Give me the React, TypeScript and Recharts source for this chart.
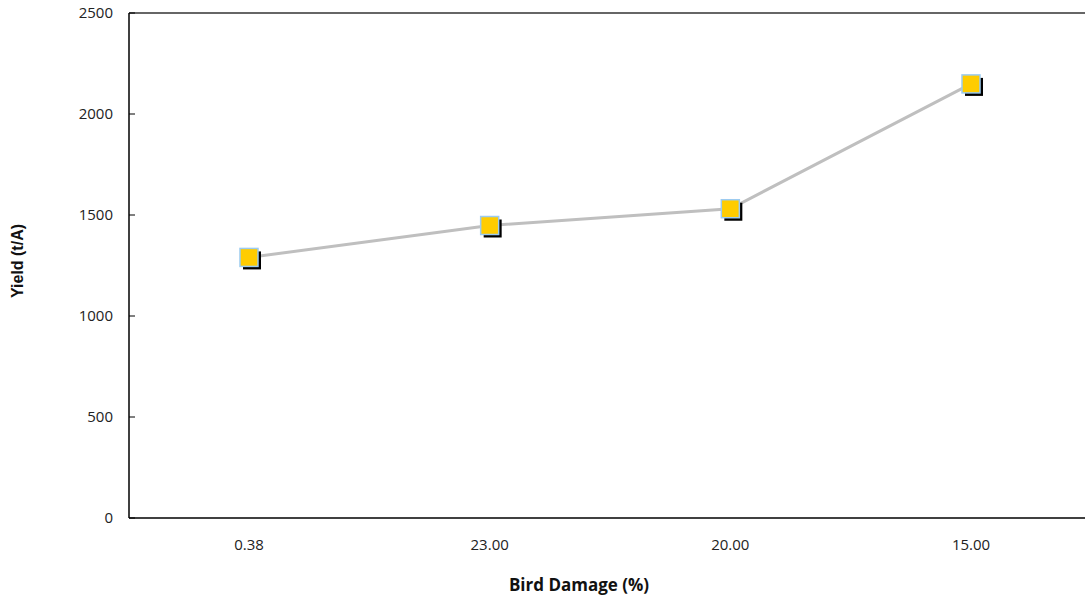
import React from "react";
import { LineChart, Line, XAxis, YAxis, ReferenceLine } from "recharts";

const categories = ["0.38", "23.00", "20.00", "15.00"];
const yieldValues = [1290, 1448, 1531, 2149];
const yTicks = [0, 500, 1000, 1500, 2000, 2500];

const data = categories.map((c, i) => ({ cat: c, y: yieldValues[i] }));

const FONT = "'Open Sans', sans-serif";

const YTick = (props: any) => {
  const { x, y, payload } = props;
  return (
    <g>
      <line x1={x + 16} x2={x + 22} y1={y} y2={y} stroke="#000" strokeWidth={1} />
      <text x={x} y={y} dy={5} textAnchor="end" fontFamily={FONT} fontSize={15} fill="#222">
        {payload.value}
      </text>
    </g>
  );
};

const XTick = (props: any) => {
  const { x, y, payload } = props;
  return (
    <text x={x} y={y} dy={14} textAnchor="middle" fontFamily={FONT} fontSize={15} fill="#222">
      {payload.value}
    </text>
  );
};

const SquareDot = (props: any) => {
  const { cx, cy, index } = props;
  if (cx == null || cy == null) return null;
  const s = 18;
  return (
    <g key={`d${index}`}>
      <rect x={cx - s / 2 + 3} y={cy - s / 2 + 3} width={s} height={s} fill="#000" />
      <rect x={cx - s / 2} y={cy - s / 2} width={s} height={s} fill="#FFCC00" stroke="#9CCBF0" strokeWidth={1.5} />
    </g>
  );
};

export default function App() {
  return (
    <div style={{ position: "absolute", left: 0, top: 0, width: 1085, height: 598, background: "#fff" }}>
      <LineChart width={1085} height={598} data={data} margin={{ top: 13, right: 0, left: 0, bottom: 0 }}>
        <XAxis
          dataKey="cat"
          height={80}
          padding={{ left: 120, right: 114 }}
          axisLine={{ stroke: "#000", strokeWidth: 1.5 }}
          tickLine={false}
          tick={<XTick />}
          tickMargin={12}
          interval={0}
        />
        <YAxis
          domain={[0, 2500]}
          ticks={yTicks}
          width={129}
          axisLine={{ stroke: "#000", strokeWidth: 1.5 }}
          tickLine={false}
          tickSize={0}
          tickMargin={16}
          tick={<YTick />}
          interval={0}
        />
        <ReferenceLine y={2500} stroke="#333" strokeWidth={1.5} ifOverflow="extendDomain" />
        <Line
          dataKey="y"
          stroke="#BFBFBF"
          strokeWidth={3}
          dot={<SquareDot />}
          activeDot={false}
          isAnimationActive={false}
        />
      </LineChart>
      <div
        style={{
          position: "absolute",
          left: 579,
          top: 584,
          transform: "translate(-50%, -50%)",
          fontFamily: FONT,
          fontWeight: 700,
          fontSize: 17,
          color: "#111",
          whiteSpace: "nowrap",
        }}
      >
        Bird Damage (%)
      </div>
      <div
        style={{
          position: "absolute",
          left: 18,
          top: 261,
          transform: "translate(-50%, -50%) rotate(-90deg)",
          fontFamily: "'Liberation Sans', Arial, sans-serif",
          fontWeight: 700,
          fontSize: 16,
          color: "#111",
          whiteSpace: "nowrap",
        }}
      >
        Yield (t/A)
      </div>
    </div>
  );
}
